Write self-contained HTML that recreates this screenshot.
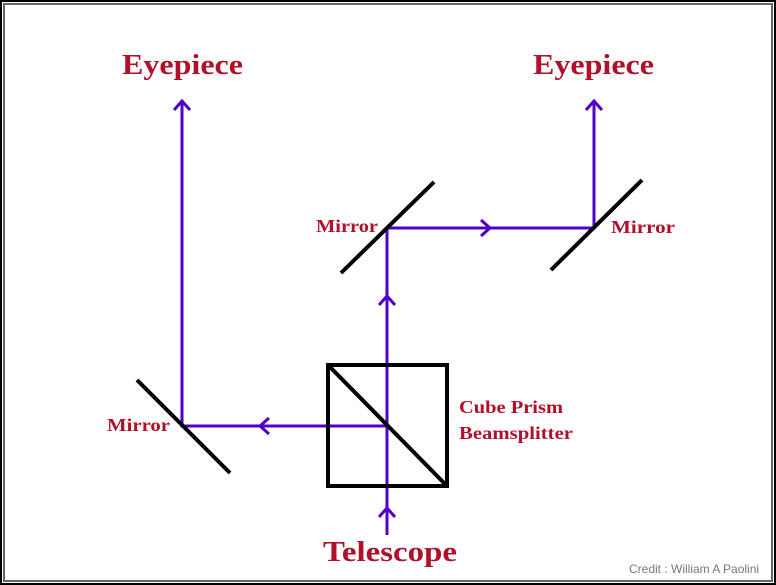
<!DOCTYPE html>
<html><head><style>
html,body{margin:0;padding:0;background:#fff;}
svg{display:block;}
text{font-family:"Liberation Serif",serif;font-weight:bold;fill:#b0102a;}
</style></head><body>
<svg width="776" height="585" viewBox="0 0 776 585" xmlns="http://www.w3.org/2000/svg">
<rect x="0" y="0" width="776" height="585" fill="#fff"/>
<rect x="1" y="1" width="774" height="583" fill="none" stroke="#000" stroke-width="2"/>
<rect x="4" y="4" width="768" height="577" fill="none" stroke="#666" stroke-width="2"/>
<g stroke="#5000c8" stroke-width="3" fill="none">
<polyline points="182,101 182,426 387,426"/>
<polyline points="387,535 387,228 594,228 594,101"/>
<polyline points="174,110 182,101 190,110"/>
<polyline points="586,110 594,101 602,110"/>
<polyline points="269,418 260,426 269,434"/>
<polyline points="379,517 387,508 395,517"/>
<polyline points="379,305 387,296 395,305"/>
<polyline points="481,220 490,228 481,236"/>
</g>
<g stroke="#000" stroke-width="4" fill="none">
<line x1="137" y1="380" x2="230" y2="473"/>
<line x1="341" y1="273" x2="434" y2="182"/>
<line x1="551" y1="270" x2="642" y2="180"/>
<rect x="328" y="365" width="119" height="121"/>
<line x1="330" y1="367" x2="445" y2="484"/>
</g>
<text x="122" y="74" font-size="29" textLength="121" lengthAdjust="spacingAndGlyphs">Eyepiece</text>
<text x="533" y="74" font-size="29" textLength="121" lengthAdjust="spacingAndGlyphs">Eyepiece</text>
<text x="316" y="232" font-size="18" textLength="62" lengthAdjust="spacingAndGlyphs">Mirror</text>
<text x="611" y="233" font-size="18" textLength="64" lengthAdjust="spacingAndGlyphs">Mirror</text>
<text x="107" y="431" font-size="18" textLength="63" lengthAdjust="spacingAndGlyphs">Mirror</text>
<text x="459" y="413" font-size="18" textLength="104" lengthAdjust="spacingAndGlyphs">Cube Prism</text>
<text x="459" y="439" font-size="18" textLength="114" lengthAdjust="spacingAndGlyphs">Beamsplitter</text>
<text x="323" y="561" font-size="29" textLength="134" lengthAdjust="spacingAndGlyphs">Telescope</text>
<text x="629" y="573" font-size="12" style="font-family:'Liberation Sans',sans-serif;font-weight:normal;fill:#777">Credit :  William A Paolini</text>
</svg>
</body></html>
